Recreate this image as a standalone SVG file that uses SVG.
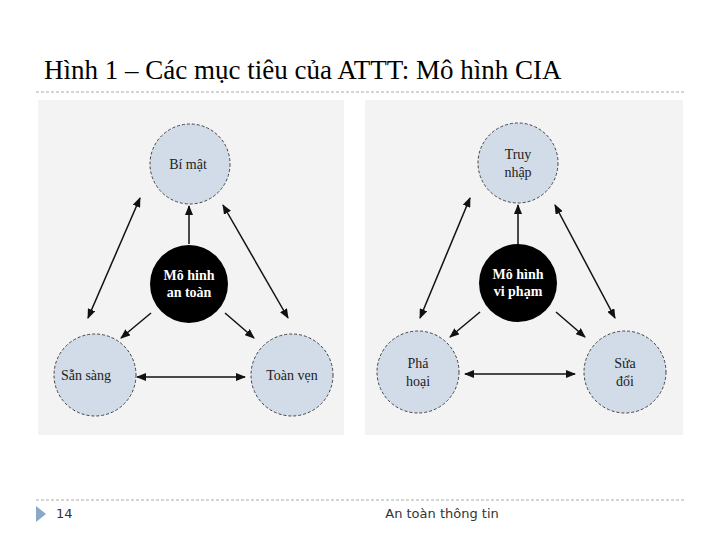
<svg xmlns="http://www.w3.org/2000/svg" width="720" height="540" viewBox="0 0 720 540">
<style>
.n{fill:#d1dce8;stroke:#444;stroke-width:1;stroke-dasharray:3 2}
.c{fill:#000}
.t{font-family:"Liberation Serif",serif;font-size:14px;fill:#222;text-anchor:middle}
.w{font-family:"Liberation Serif",serif;font-size:14px;font-weight:bold;fill:#fff;text-anchor:middle}
.a{stroke:#111;stroke-width:1.5;fill:none;marker-end:url(#h)}
.d{stroke:#111;stroke-width:1.5;fill:none;marker-end:url(#h);marker-start:url(#hs)}
</style>
<defs>
<marker id="h" markerWidth="10" markerHeight="8" refX="9" refY="4" orient="auto" markerUnits="userSpaceOnUse"><path d="M0,0L10,4L0,8z" fill="#111"/></marker>
<marker id="hs" markerWidth="10" markerHeight="8" refX="1" refY="4" orient="auto" markerUnits="userSpaceOnUse"><path d="M10,0L0,4L10,8z" fill="#111"/></marker>
</defs>
<rect width="720" height="540" fill="#fff"/>
<text x="44" y="79" font-family="Liberation Serif,serif" font-size="27" fill="#000">Hình 1 – Các mục tiêu của ATTT: Mô hình CIA</text>
<line x1="36" y1="92" x2="686" y2="92" stroke="#aaa" stroke-dasharray="3 2"/>
<rect x="38" y="100" width="306" height="335" fill="#f3f3f3"/>
<rect x="365" y="100" width="318" height="335" fill="#f3f3f3"/>
<g id="connectors">
<line class="d" x1="140" y1="198" x2="88" y2="318"/>
<line class="d" x1="223" y1="205" x2="288" y2="318"/>
<line class="a" x1="189" y1="244" x2="189" y2="206"/>
<line class="a" x1="151" y1="313" x2="121" y2="338"/>
<line class="a" x1="225" y1="313" x2="254" y2="338"/>
<line class="d" x1="137" y1="377" x2="245" y2="377"/>
<line class="d" x1="470" y1="198" x2="420" y2="318"/>
<line class="d" x1="555" y1="205" x2="615" y2="318"/>
<line class="a" x1="518" y1="244" x2="518" y2="205"/>
<line class="a" x1="480" y1="312" x2="450" y2="337"/>
<line class="a" x1="556" y1="312" x2="585" y2="337"/>
<line class="d" x1="465" y1="374" x2="575" y2="374"/>
</g>
<g id="bimat"><circle class="n" cx="190" cy="164" r="40"/><text class="t" x="188" y="169">Bí mật</text></g>
<g id="sansang"><circle class="n" cx="95" cy="375" r="41"/><text class="t" x="86" y="380">Sẵn sàng</text></g>
<g id="toanven"><circle class="n" cx="292" cy="375" r="41"/><text class="t" x="292" y="380">Toàn vẹn</text></g>
<g id="mohinh1"><circle class="c" cx="189" cy="284" r="39"/><text class="w" x="189" y="280">Mô hinh</text><text class="w" x="189" y="297">an toàn</text></g>
<g id="truynhap"><circle class="n" cx="518" cy="163" r="40"/><text class="t" x="518" y="159">Truy</text><text class="t" x="518" y="177">nhập</text></g>
<g id="phahoai"><circle class="n" cx="418" cy="372" r="41"/><text class="t" x="418" y="368">Phá</text><text class="t" x="418" y="386">hoại</text></g>
<g id="suadoi"><circle class="n" cx="625" cy="372" r="41"/><text class="t" x="625" y="368">Sửa</text><text class="t" x="625" y="386">đổi</text></g>
<g id="mohinh2"><circle class="c" cx="518" cy="283" r="39"/><text class="w" x="518" y="279">Mô hình</text><text class="w" x="518" y="296">vi phạm</text></g>
<line x1="36" y1="500" x2="686" y2="500" stroke="#aaa" stroke-dasharray="3 2"/>
<path d="M36,506L46,514L36,522z" fill="#8aa8c8"/>
<text x="56" y="518" font-family="DejaVu Sans,sans-serif" font-size="13" fill="#333">14</text>
<text x="442" y="518" font-family="DejaVu Sans,sans-serif" font-size="13" fill="#333" text-anchor="middle">An toàn thông tin</text>
</svg>
